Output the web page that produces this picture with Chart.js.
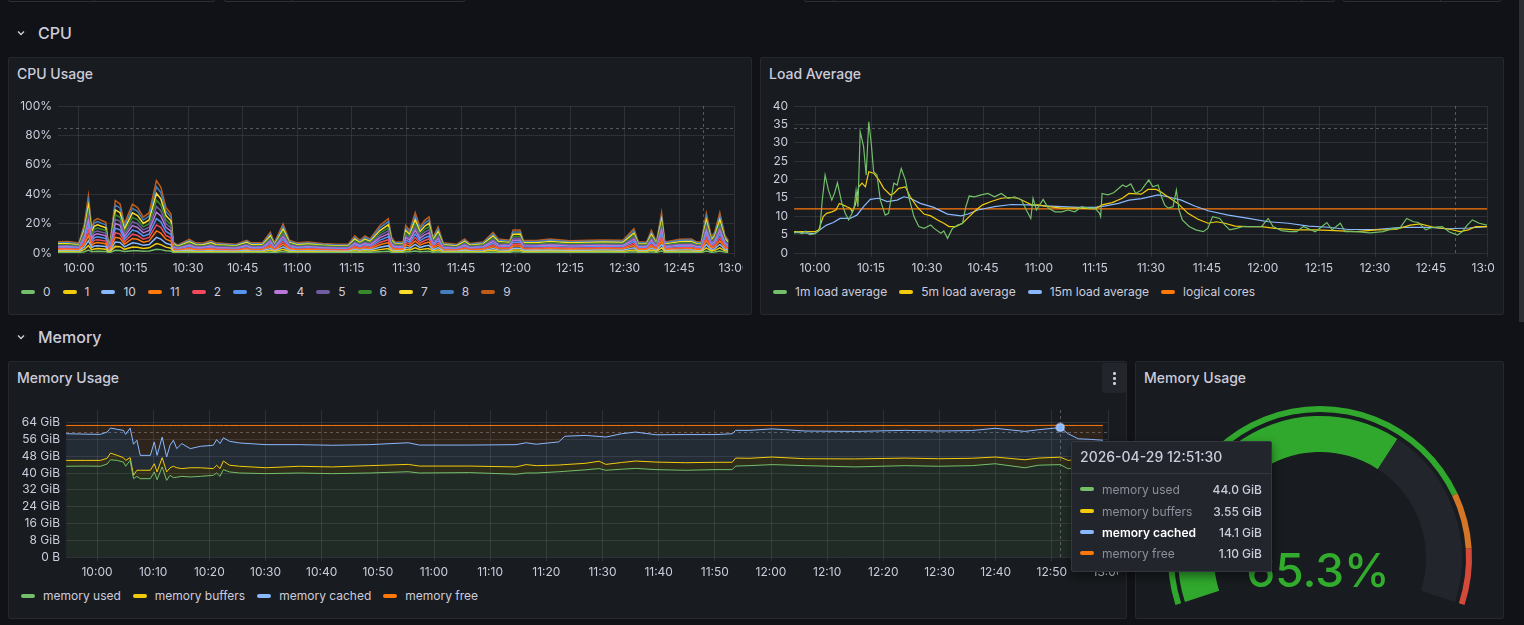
<!DOCTYPE html>
<html>
<head>
<meta charset="utf-8">
<title>Node dashboard</title>
<script src="https://cdn.jsdelivr.net/npm/chart.js@4.4.1/dist/chart.umd.min.js"></script>
<style>
  body { margin: 0; width: 1524px; height: 625px; background: #111217; overflow: hidden;
         font-family: Inter, 'Noto Sans', sans-serif; color: #ccccdc; position: relative; }
  .var { position: absolute; top: -20px; height: 22px; border: 1px solid #2c2e34; border-radius: 2px; box-sizing: border-box; }
  .var b { position: absolute; top: 0; bottom: 0; width: 1px; background: #2c2e34; }
  .row { position: absolute; left: 38px; font-size: 16px; font-weight: 500; line-height: 20px; }
  .chev { position: absolute; left: 16px; }
  .panel { position: absolute; background: #181b1f; border: 1px solid #25272d; border-radius: 2px; box-sizing: border-box; overflow: hidden; }
  .ptitle { position: absolute; left: 8px; top: 7px; font-size: 14px; font-weight: 500; line-height: 18px; white-space: nowrap; }
  canvas.c { position: absolute; }
  .legend { position: absolute; display: flex; font-size: 12px; line-height: 16px; white-space: nowrap; }
  .li { display: flex; align-items: center; margin-right: 12px; }
  .li i, .tr i { display: block; width: 14px; height: 4px; border-radius: 2px; margin-right: 8px; }
  .menu { position: absolute; left: 1102px; top: 363px; width: 24px; height: 30px; background: #22252b; border-radius: 2px; }
  .menu b { position: absolute; left: 11px; width: 2.5px; height: 2.5px; border-radius: 50%; background: #ccccdc; }
  .gval { position: absolute; left: 1218px; top: 545px; width: 200px; text-align: center; font-size: 46px;
          line-height: 50px; font-weight: 500; color: rgb(50,172,45); }
  .tip { position: absolute; left: 1071px; top: 441px; width: 201px; height: 131px; background: #22252b;
         border: 1px solid #34373e; border-radius: 2px; box-sizing: border-box; box-shadow: 0 4px 10px rgba(0,0,0,0.45); z-index: 5; }
  .tip-h { position: absolute; left: 8px; top: 6px; font-size: 14px; font-weight: 500; line-height: 18px; }
  .tip-hr { position: absolute; left: 0; right: 0; top: 31px; height: 1px; background: #34373e; }
  .tr { position: absolute; left: 8px; right: 9px; height: 16px; display: flex; align-items: center; font-size: 12px; }
  .tr .n { flex: 1; color: #8e8e9b; }
  .tr.act .n { color: #ffffff; font-weight: 600; }
  .tr .v { font-weight: 500; color: #ccccdc; }
  .scroll { position: absolute; left: 1519px; top: 0; width: 5px; height: 322px; background: #2c2e34; }
</style>
</head>
<body>

<!-- variable pickers, only their bottom edge is visible -->
<div class="var" style="left:8px;width:207px"><b style="left:85px"></b></div>
<div class="var" style="left:224px;width:241px"><b style="left:67px"></b></div>
<div class="var" style="left:804px;width:531px"><b style="left:28px"></b><b style="left:468px"></b><b style="left:496px"></b></div>
<div class="var" style="left:1343px;width:158px"><b style="left:96px"></b></div>
<div class="scroll"></div>

<svg class="chev" style="top:28px" width="10" height="10"><polyline points="2,3.5 5,6.5 8,3.5" fill="none" stroke="#ccccdc" stroke-width="1.4"/></svg>
<div class="row" style="top:23px">CPU</div>
<svg class="chev" style="top:332px" width="10" height="10"><polyline points="2,3.5 5,6.5 8,3.5" fill="none" stroke="#ccccdc" stroke-width="1.4"/></svg>
<div class="row" style="top:327px">Memory</div>

<div class="panel" style="left:8px;top:57px;width:744px;height:258px"><div class="ptitle">CPU Usage</div></div>
<div class="panel" style="left:760px;top:57px;width:744px;height:258px"><div class="ptitle">Load Average</div></div>
<div class="panel" style="left:8px;top:361px;width:1119px;height:258px"><div class="ptitle">Memory Usage</div></div>
<div class="panel" style="left:1135px;top:361px;width:369px;height:258px"><div class="ptitle">Memory Usage</div></div>
<div class="menu"><b style="top:9px"></b><b style="top:14px"></b><b style="top:19px"></b></div>

<canvas class="c" id="cpu" width="727" height="190" style="left:16px;top:90px"></canvas>
<canvas class="c" id="load" width="727" height="190" style="left:768px;top:90px"></canvas>
<canvas class="c" id="mem" width="1102" height="190" style="left:16px;top:394px"></canvas>
<canvas class="c" id="gauge" width="368" height="221" style="left:1136px;top:395px"></canvas>

<div class="legend" id="cpuLegend" style="left:21px;top:284px"></div>
<div class="legend" id="loadLegend" style="left:773px;top:284px"></div>
<div class="legend" id="memLegend" style="left:21px;top:588px"></div>

<div class="gval" id="gaugeText"></div>

<div class="tip">
  <div class="tip-h" id="tipHead"></div>
  <div class="tip-hr"></div>
  <div id="tipRows"></div>
</div>

<script>
// ------------------------------------------------------------
// Data (times are minutes after midnight, 600 = 10:00)
// ------------------------------------------------------------
const hoverTime = 771.5;          // 12:51:30, shared crosshair
const hoverDate = '2026-04-29';

// CPU usage per core, % (stacked)
const cpuNames = ['0', '1', '10', '11', '2', '3', '4', '5', '6', '7', '8', '9'];
const cpuColors = ['#73BF69', '#F2CC0C', '#8AB8FF', '#FF780A', '#F2495C', '#5794F2',
                   '#B877D9', '#705DA0', '#37872D', '#FADE2A', '#447EBC', '#C15C17'];
const cpuTimes = [
  594.0,597.0,600.0,601.5,602.6,603.5,604.2,605.1,607.4,608.3,
  610.0,611.3,612.5,614.7,616.1,617.7,619.3,621.3,622.5,623.9,
  625.3,625.9,627.1,630.3,632.1,634.0,636.3,637.6,640.0,643.1,
  646.1,647.3,650.5,652.6,653.7,656.1,657.8,660.0,663.0,667.0,
  671.0,674.0,675.8,677.2,678.6,680.0,682.7,685.0,685.9,686.8,
  689.1,689.8,690.9,692.4,693.7,695.0,696.2,697.3,698.7,700.1,
  703.8,706.0,707.4,711.1,713.8,715.2,718.4,719.3,721.2,722.1,
  725.7,729.4,734.9,740.0,744.0,749.5,752.5,753.7,756.0,757.3,
  758.7,760.1,761.0,765.1,768.3,769.7,771.0,772.4,773.8,774.7,
  776.1,777.5,778.4];
const cpu0 = [
  0.4,0.4,0.3,0.9,2.0,0.8,1.1,1.2,1.0,0.1, 1.8,1.7,1.0,1.6,1.5,1.2,1.4,2.6,2.3,1.6,
  1.3,0.4,0.3,0.5,0.3,0.3,0.4,0.3,0.3,0.3, 0.4,0.3,0.4,0.7,0.3,1.0,0.4,0.3,0.4,0.3,
  0.3,0.3,0.6,0.4,0.6,0.5,0.9,1.2,0.5,0.4, 0.4,0.9,0.8,1.4,0.9,1.1,1.2,0.5,0.9,0.3,
  0.3,0.5,0.3,0.4,0.7,0.5,0.4,0.8,0.8,0.4, 0.4,0.5,0.4,0.4,0.5,0.4,0.8,0.4,0.4,0.8,
  0.4,1.4,0.4,0.5,0.5,0.4,0.4,1.4,0.5,0.7, 1.4,0.6,0.4];
const cpu1 = [
  0.6,0.6,0.5,1.5,3.0,1.3,1.7,1.8,1.6,0.2, 2.7,2.6,1.5,2.5,2.4,1.9,2.1,3.8,3.4,2.4,
  2.0,0.6,0.4,0.7,0.5,0.5,0.6,0.5,0.5,0.4, 0.7,0.5,0.5,1.1,0.5,1.5,0.7,0.5,0.6,0.5,
  0.4,0.4,0.9,0.7,0.9,0.7,1.4,1.8,0.8,0.6, 0.6,1.4,1.2,2.1,1.3,1.7,1.9,0.8,1.3,0.5,
  0.4,0.7,0.5,0.6,1.1,0.7,0.7,1.2,1.2,0.7, 0.7,0.7,0.6,0.7,0.7,0.7,1.3,0.6,0.6,1.2,
  0.6,2.1,0.6,0.7,0.7,0.6,0.6,2.1,0.8,1.1, 2.1,0.9,0.7];
const cpu10 = [
  0.6,0.7,0.6,1.7,3.3,1.5,1.9,2.0,1.8,0.2, 3.0,2.8,1.7,2.8,2.6,2.1,2.3,4.2,3.8,2.6,
  2.3,0.6,0.5,0.8,0.6,0.6,0.7,0.6,0.5,0.5, 0.8,0.6,0.6,1.2,0.6,1.7,0.8,0.6,0.6,0.5,
  0.5,0.5,1.0,0.7,1.0,0.8,1.6,2.0,0.9,0.6, 0.6,1.6,1.3,2.3,1.5,1.9,2.1,0.9,1.5,0.6,
  0.5,0.8,0.5,0.6,1.2,0.8,0.8,1.3,1.3,0.8, 0.7,0.8,0.7,0.8,0.8,0.8,1.4,0.6,0.6,1.3,
  0.6,2.3,0.6,0.8,0.8,0.6,0.6,2.3,0.9,1.2, 2.3,1.0,0.8];
const cpu11 = [
  0.7,0.7,0.6,1.8,3.5,1.6,2.0,2.1,1.9,0.2, 3.2,3.0,1.8,3.0,2.8,2.2,2.4,4.4,4.0,2.8,
  2.4,0.7,0.5,0.8,0.6,0.6,0.8,0.6,0.6,0.5, 0.8,0.6,0.6,1.3,0.6,1.8,0.8,0.6,0.7,0.6,
  0.5,0.5,1.0,0.8,1.0,0.9,1.7,2.1,1.0,0.7, 0.7,1.7,1.4,2.4,1.6,2.0,2.2,1.0,1.6,0.6,
  0.5,0.9,0.6,0.7,1.3,0.9,0.8,1.4,1.4,0.8, 0.8,0.9,0.8,0.8,0.8,0.8,1.5,0.7,0.7,1.4,
  0.7,2.4,0.7,0.8,0.9,0.7,0.7,2.4,1.0,1.3, 2.4,1.1,0.8];
const cpu2 = [
  0.7,0.6,0.6,1.6,3.4,1.4,1.9,1.9,1.8,0.2, 3.1,2.8,1.6,2.9,2.6,2.0,2.4,4.1,3.9,2.6,
  2.2,0.7,0.4,0.8,0.6,0.6,0.7,0.6,0.6,0.5, 0.7,0.6,0.6,1.2,0.6,1.6,0.7,0.6,0.6,0.6,
  0.5,0.5,1.0,0.7,1.0,0.8,1.6,1.9,0.9,0.7, 0.6,1.6,1.3,2.3,1.5,1.8,2.1,0.9,1.5,0.6,
  0.5,0.8,0.6,0.6,1.2,0.8,0.7,1.3,1.4,0.7, 0.7,0.8,0.7,0.7,0.8,0.7,1.4,0.7,0.6,1.3,
  0.7,2.4,0.6,0.8,0.8,0.7,0.6,2.3,0.9,1.2, 2.3,1.0,0.7];
const cpu3 = [
  0.6,0.7,0.6,1.7,3.2,1.5,1.8,2.0,1.7,0.2, 3.0,2.9,1.7,2.8,2.7,2.1,2.3,4.2,3.8,2.7,
  2.3,0.6,0.5,0.8,0.6,0.5,0.7,0.6,0.5,0.5, 0.8,0.6,0.6,1.2,0.6,1.7,0.8,0.6,0.6,0.5,
  0.5,0.5,1.0,0.8,1.0,0.8,1.6,2.0,0.9,0.6, 0.7,1.6,1.3,2.4,1.5,1.9,2.1,0.9,1.5,0.6,
  0.5,0.8,0.5,0.7,1.2,0.8,0.8,1.3,1.3,0.8, 0.7,0.8,0.7,0.8,0.7,0.8,1.4,0.6,0.7,1.3,
  0.6,2.3,0.7,0.8,0.8,0.6,0.7,2.3,0.9,1.2, 2.4,1.0,0.8];
const cpu4 = [
  0.7,0.7,0.6,1.8,3.5,1.6,2.0,2.1,1.9,0.2, 3.2,3.0,1.8,3.0,2.8,2.2,2.5,4.4,4.0,2.8,
  2.4,0.7,0.5,0.8,0.6,0.6,0.8,0.6,0.6,0.5, 0.8,0.6,0.6,1.3,0.6,1.8,0.8,0.6,0.7,0.6,
  0.5,0.5,1.0,0.8,1.0,0.9,1.7,2.1,1.0,0.7, 0.7,1.7,1.4,2.5,1.6,2.0,2.2,1.0,1.6,0.6,
  0.5,0.9,0.6,0.7,1.3,0.9,0.8,1.4,1.4,0.8, 0.8,0.9,0.8,0.8,0.8,0.8,1.5,0.7,0.7,1.4,
  0.7,2.5,0.7,0.8,0.9,0.7,0.7,2.4,1.0,1.3, 2.5,1.1,0.8];
const cpu5 = [
  0.6,0.6,0.5,1.6,3.1,1.4,1.8,1.9,1.7,0.2, 2.9,2.7,1.6,2.7,2.5,2.0,2.2,4.0,3.6,2.5,
  2.1,0.6,0.4,0.7,0.6,0.5,0.7,0.6,0.5,0.5, 0.7,0.6,0.6,1.1,0.6,1.6,0.7,0.6,0.6,0.5,
  0.5,0.5,0.9,0.7,0.9,0.8,1.5,1.9,0.9,0.6, 0.6,1.5,1.2,2.2,1.4,1.8,2.0,0.9,1.4,0.6,
  0.5,0.8,0.5,0.6,1.1,0.8,0.7,1.3,1.3,0.7, 0.7,0.8,0.7,0.7,0.7,0.7,1.3,0.6,0.6,1.2,
  0.6,2.2,0.6,0.8,0.8,0.6,0.6,2.2,0.9,1.1, 2.2,1.0,0.7];
const cpu6 = [
  0.7,0.6,0.6,1.7,3.3,1.5,1.9,2.0,1.8,0.2, 3.1,2.8,1.7,2.9,2.6,2.1,2.3,4.2,3.9,2.6,
  2.3,0.7,0.5,0.8,0.6,0.6,0.7,0.6,0.6,0.5, 0.7,0.6,0.6,1.2,0.6,1.7,0.7,0.6,0.6,0.6,
  0.5,0.5,1.0,0.7,1.0,0.8,1.6,2.0,0.9,0.7, 0.6,1.6,1.3,2.3,1.5,1.9,2.1,0.9,1.5,0.6,
  0.5,0.8,0.6,0.6,1.2,0.8,0.7,1.3,1.3,0.7, 0.7,0.8,0.7,0.7,0.8,0.7,1.4,0.7,0.6,1.3,
  0.7,2.3,0.6,0.8,0.8,0.7,0.6,2.3,0.9,1.2, 2.3,1.0,0.7];
const cpu7 = [
  0.7,0.7,0.6,1.8,3.6,1.6,2.1,2.2,2.0,0.2, 3.3,3.1,1.8,3.1,2.9,2.3,2.6,4.6,4.2,2.9,
  2.5,0.7,0.5,0.9,0.6,0.6,0.8,0.6,0.6,0.6, 0.8,0.6,0.7,1.3,0.6,1.8,0.8,0.6,0.7,0.6,
  0.6,0.6,1.1,0.8,1.1,0.9,1.7,2.2,1.0,0.7, 0.7,1.7,1.4,2.6,1.7,2.1,2.3,1.0,1.7,0.6,
  0.6,0.9,0.6,0.7,1.3,0.9,0.8,1.5,1.5,0.8, 0.8,0.9,0.8,0.8,0.8,0.8,1.5,0.7,0.7,1.4,
  0.7,2.6,0.7,0.9,0.9,0.7,0.7,2.5,1.0,1.3, 2.6,1.1,0.8];
const cpu8 = [
  0.7,0.8,0.7,1.9,3.6,1.7,2.1,2.2,1.9,0.2, 3.4,3.1,1.9,3.1,2.9,2.3,2.6,4.6,4.2,2.9,
  2.5,0.7,0.5,0.9,0.7,0.6,0.8,0.7,0.6,0.6, 0.8,0.7,0.7,1.3,0.7,1.9,0.8,0.7,0.7,0.6,
  0.6,0.6,1.1,0.8,1.1,0.9,1.8,2.2,1.0,0.7, 0.7,1.8,1.4,2.6,1.7,2.1,2.3,1.0,1.7,0.7,
  0.6,0.9,0.6,0.7,1.3,0.9,0.8,1.5,1.4,0.8, 0.8,0.9,0.8,0.8,0.8,0.8,1.6,0.7,0.7,1.4,
  0.7,2.6,0.7,0.9,0.9,0.7,0.7,2.5,1.0,1.3, 2.6,1.1,0.8];
const cpu9 = [
  0.6,0.7,0.6,1.6,3.3,1.5,1.8,2.0,1.8,0.2, 3.0,2.8,1.7,2.8,2.6,2.0,2.3,4.1,3.8,2.6,
  2.2,0.6,0.4,0.8,0.6,0.6,0.7,0.6,0.5,0.5, 0.7,0.6,0.6,1.2,0.6,1.7,0.7,0.6,0.6,0.5,
  0.5,0.5,1.0,0.7,1.0,0.8,1.6,2.0,0.9,0.6, 0.6,1.6,1.3,2.3,1.5,1.9,2.1,0.9,1.5,0.6,
  0.5,0.8,0.5,0.6,1.2,0.8,0.7,1.3,1.3,0.7, 0.7,0.8,0.7,0.7,0.7,0.7,1.4,0.6,0.6,1.3,
  0.6,2.3,0.6,0.8,0.8,0.6,0.6,2.3,0.9,1.2, 2.3,1.0,0.7];
const cpuSeries = [cpu0, cpu1, cpu10, cpu11, cpu2, cpu3, cpu4, cpu5, cpu6, cpu7, cpu8, cpu9];
const cpuXTicks = [600, 615, 630, 645, 660, 675, 690, 705, 720, 735, 750, 765, 780];
const cpuYTicks = [0, 20, 40, 60, 80, 100];
const cpuThreshold = 85;

// Load average
const loadNames = ['1m load average', '5m load average', '15m load average', 'logical cores'];
const loadColors = ['#73BF69', '#F2CC0C', '#8AB8FF', '#FF780A'];
const load1mTimes = [
  594.4,595.5,596.5,597.5,598.5,599.5,600.3,601.3,601.9,602.7,
  603.6,604.5,605.3,606.0,607.2,608.1,609.0,609.9,610.5,611.0,
  611.5,612.1,613.0,613.7,614.4,615.1,615.7,616.6,617.5,618.8,
  619.7,621.1,622.0,623.1,624.2,625.1,626.5,627.8,629.2,631.0,
  631.9,633.7,634.5,635.5,636.8,638.2,639.5,640.4,641.3,642.7,
  644.5,646.3,648.1,649.9,651.7,653.5,655.3,656.6,657.8,658.4,
  659.3,661.1,662.5,664.3,666.1,667.8,669.6,671.4,673.2,675.0,
  676.2,676.5,676.9,678.4,680.0,682.4,683.3,684.6,685.9,687.4,
  689.4,690.5,691.9,692.8,693.7,694.6,695.9,696.8,697.5,698.4,
  700.2,702.0,704.0,705.2,706.5,708.4,709.8,711.1,712.9,714.7,
  717.8,719.6,721.4,722.7,725.0,727.2,729.0,730.8,734.0,737.1,
  738.5,740.7,742.0,745.0,748.6,752.2,754.8,756.6,758.5,760.3,
  761.6,763.6,765.4,768.0,769.8,772.1,773.4,774.7,776.1,777.9,
  780.0];
const load1m = [
  5.4,5.8,5.2,6.0,5.0,5.1,5.6,6.3,14,21.2,
  17.1,14.4,16.5,19.1,13.5,10.8,9.0,10.8,12.5,17,
  12.6,33.0,29.0,21.2,35.7,29.4,22.1,21.2,14.4,10.3,
  10.8,19.0,18.5,23.0,19.9,15.3,9.9,7.2,6.7,7.6,
  6.7,5.4,6.0,4.0,6.7,7.6,8.0,12.6,15.5,15.3,
  15.8,16.2,15.3,16.2,14.9,15.3,14.4,11.7,9.4,14.9,
  11.7,14.6,12.2,11.2,11.2,11.7,11.2,12.6,12.2,12.2,
  10.8,9.9,16.2,15.8,16.4,18.5,18.0,18.8,16.2,17.1,
  19.9,18.0,18.5,15.3,13.0,12.2,12.6,17.1,11.7,9.0,
  7.2,6.3,5.8,6.7,9.9,9.4,7.6,6.3,6.7,7.2,
  7.2,7.2,9.4,7.2,6.1,5.8,5.8,7.2,5.8,8.3,
  6.3,8.1,5.8,5.8,5.5,5.8,6.7,6.7,9.4,8.5,
  8.3,6.3,7.0,7.2,5.8,4.9,5.8,7.6,9.0,8.1,
  7.6];
const load5mTimes = [
  594.4,597.0,600.0,601.0,602.2,603.1,604.5,605.6,606.5,607.5,
  608.5,609.4,610.0,610.8,611.7,612.6,613.5,614.4,615.7,617.1,
  618.4,620.2,621.1,622.4,624.2,625.5,627.3,629.2,631.0,632.8,
  634.5,635.9,637.7,639.5,641.3,643.1,644.9,647.2,649.9,652.1,
  654.4,656.2,658.0,659.8,662.5,666.1,670.6,675.0,676.9,679.6,
  682.3,684.1,687.4,689.2,691.4,692.5,694.5,697.2,699.9,702.6,
  705.3,707.5,709.8,712.5,716.0,719.6,723.2,728.6,734.0,739.3,
  745.0,750.4,755.6,759.4,762.1,765.7,770.2,772.8,775.0,777.0,
  780.0];
const load5m = [
  5.8,5.8,5.8,6.3,9.9,10.8,11.2,11.7,13.5,13.1,
  12.6,12.2,11.2,13.1,18.0,19.0,18.0,22.1,21.7,19.9,
  17.6,15.8,16.2,17.6,18.0,15.3,12.6,10.6,10.1,9.0,
  8.1,7.2,7.2,8.1,9.9,11.7,13.1,14.0,14.9,15.1,
  14.9,14.0,13.1,13.1,12.6,12.2,12.2,12.0,13.1,13.7,
  14.9,16.2,16.0,17.3,17.3,16.7,15.3,13.5,10.8,9.2,
  8.1,8.5,8.1,7.3,7.2,7.2,6.7,6.3,6.3,6.1,
  5.8,6.3,6.4,7.6,7.9,7.0,6.4,5.8,6.3,7.2,
  7.2];
const load15mTimes = [
  594.4,597.0,600.0,601.3,603.1,604.9,606.7,609.4,611.2,613.0,
  614.8,617.1,619.3,622.0,623.8,625.5,628.2,631.8,635.5,639.1,
  641.0,643.6,648.1,652.6,657.1,661.6,666.1,670.6,675.0,677.8,
  681.3,684.1,687.5,691.9,694.5,698.1,701.7,705.3,710.7,716.1,
  721.4,726.8,732.2,737.5,742.9,750.1,757.3,763.6,769.8,775.2,
  780.0];
const load15m = [
  5.6,5.5,5.3,6.3,7.6,8.3,9.4,9.4,10.3,12.6,
  14.6,14.9,14.0,14.4,15.3,14.9,13.5,12.4,10.6,10.1,
  10.6,11.7,12.6,13.2,13.1,12.8,12.6,12.4,12.4,12.8,
  13.5,14.4,14.8,15.8,15.3,14.4,12.8,11.5,10.3,9.4,
  8.5,8.1,7.3,7.0,6.4,6.4,7.0,7.0,6.6,6.8,
  7.2];
const coresTimes = [594.4, 780.0];
const cores = [12, 12];
const loadYTicks = [0, 5, 10, 15, 20, 25, 30, 35, 40];
const loadThreshold = 34;

// Memory, GiB (stacked)
const memNames = ['memory used', 'memory buffers', 'memory cached', 'memory free'];
const memColors = ['#73BF69', '#F2CC0C', '#8AB8FF', '#FF780A'];
const memTimes = [
  594.5,598.0,600.6,601.8,602.4,603.6,604.7,605.1,605.9,606.5,
  607.1,607.7,609.5,610.2,610.7,611.6,612.4,613.0,613.6,614.2,
  615.1,616.6,618.4,620.7,621.3,621.9,622.5,623.6,625.4,630.1,
  636.0,641.9,648.5,655.4,657.4,666.3,674.6,676.4,678.2,682.2,
  683.3,686.9,689.4,690.6,693.4,695.9,699.5,704.8,710.2,713.1,
  713.7,716.1,720.2,726.1,735.0,743.9,749.8,755.7,759.9,765.2,
  767.6,771.5,772.9,774.7,777.0,779.1];
const memUsed = [
  43.2,43.3,43.2,44.3,46.3,46.0,45.2,43.2,46.0,37.3,
  38.4,37.3,37.3,40.5,36.8,42.9,36.5,38.9,37.8,38.0,
  38.4,38.1,38.4,38.9,40.0,38.4,41.6,40.5,40.0,39.7,
  40.0,39.7,40.0,40.6,40.0,40.2,39.4,40.0,40.0,40.6,
  40.8,41.5,42.1,41.3,41.8,42.2,41.6,41.3,41.6,41.6,
  43.3,43.5,44.0,43.5,42.9,43.5,43.2,43.5,44.4,42.5,
  43.7,44.0,42.0,42.6,42.5,42.4];
const memBuffers = [
  2.8,2.7,2.8,2.7,3.2,2.4,2.1,2.8,1.3,1.6,
  2.9,4.0,4.0,3.9,3.7,4.4,4.0,3.6,5.4,4.5,
  3.7,4.4,4.1,3.2,3.7,3.7,4.1,3.2,3.2,2.8,
  3.2,3.2,3.5,3.5,3.3,3.1,3.5,4.0,3.5,3.2,
  3.2,3.1,3.5,2.8,3.2,3.5,3.6,3.6,3.5,3.5,
  3.8,3.5,3.6,3.3,3.8,3.6,3.6,3.5,3.2,3.8,
  3.4,3.55,4.0,3.8,3.8,3.8];
const memCached = [
  12.7,12.5,12.4,12.5,11.9,12.4,13.0,12.4,14.1,14.8,
  14.3,7.1,7.1,10.4,7.9,9.8,7.1,10.7,12.4,9.1,
  11.9,9.1,10.2,11.1,12.2,11.9,11.1,11.4,11.1,11.0,
  10.3,10.3,10.0,10.3,10.0,10.0,10.6,10.4,10.2,11.0,
  13.5,13.3,11.8,13.0,13.7,13.8,13.0,13.4,13.2,13.6,
  13.2,13.3,13.4,13.2,13.1,13.2,13.2,13.2,13.7,13.5,
  13.5,14.1,12.7,9.9,9.7,9.4];
const memFree = [
  3.95,4.15,4.25,3.15,1.25,1.85,2.35,4.25,1.25,8.95,
  7.05,14.25,14.25,7.85,14.25,5.55,15.05,9.45,7.05,11.05,
  8.65,11.05,9.95,9.45,6.75,8.65,5.85,7.55,8.35,9.15,
  9.15,9.45,9.15,8.25,9.35,9.35,9.15,8.25,8.95,7.85,
  5.15,4.75,5.25,5.55,3.95,3.15,4.45,4.35,4.35,3.95,
  2.35,2.35,1.65,2.65,2.85,2.35,2.65,2.45,1.35,2.85,
  2.05,1.10,3.95,6.35,6.65,7.05];
const memSeries = [memUsed, memBuffers, memCached, memFree];
const memXTicks = [600, 610, 620, 630, 640, 650, 660, 670, 680, 690, 700, 710,
                   720, 730, 740, 750, 760, 770, 780];
const memYTicks = [0, 8, 16, 24, 32, 40, 48, 56, 64];
const memThreshold = 59.5;
const memActive = 2;               // highlighted row in tooltip (memory cached)

// Gauge
const gaugeValue = 65.3;
const gaugeSteps = [0, 80, 90, 100];
const gaugeColors = ['rgba(50,172,45,0.97)', 'rgba(237,129,40,0.89)', '#d44a3a'];

// ------------------------------------------------------------
// Helpers
// ------------------------------------------------------------
const GRID = 'rgba(204,204,220,0.12)';
const TICK = '#ccccdc';
const DASH = 'rgba(204,204,220,0.35)';

Chart.defaults.font.family = "Inter, 'Noto Sans', sans-serif";
Chart.defaults.font.size = 12;
Chart.defaults.color = TICK;

function hhmm(v) {
  const h = Math.floor(v / 60), m = Math.round(v - h * 60);
  return h + ':' + String(m).padStart(2, '0');
}

function pts(times, values) {
  return values.map((v, i) => ({ x: times[i], y: v }));
}

function timeAxis(min, max, ticks) {
  return {
    type: 'linear', min, max,
    afterBuildTicks: s => { s.ticks = ticks.map(value => ({ value })); },
    afterFit: s => { s.height = 27; s.paddingLeft = 0; s.paddingRight = 0; },
    grid: { color: GRID, tickLength: 4 },
    border: { display: false },
    ticks: { color: TICK, padding: 4, maxRotation: 0, autoSkip: false, callback: hhmm },
  };
}

function valueAxis(max, ticks, width, fmt, stacked) {
  return {
    min: 0, max, stacked,
    afterBuildTicks: s => { s.ticks = ticks.map(value => ({ value })); },
    afterFit: s => { s.width = width; s.paddingTop = 0; s.paddingBottom = 0; },
    grid: { color: GRID, drawTicks: false },
    border: { display: false },
    ticks: { color: TICK, padding: 6, callback: fmt },
  };
}

// dashed threshold line + shared crosshair
const guides = {
  id: 'guides',
  beforeDatasetsDraw(chart, args, opts) {
    const { ctx, chartArea: a, scales: { x, y } } = chart;
    ctx.save();
    ctx.strokeStyle = DASH;
    ctx.lineWidth = 1;
    ctx.setLineDash([3, 3]);
    ctx.beginPath();
    if (opts.threshold != null) {
      const py = Math.round(y.getPixelForValue(opts.threshold)) + 0.5;
      ctx.moveTo(a.left, py); ctx.lineTo(a.right, py);
    }
    if (opts.hover != null) {
      const px = Math.round(x.getPixelForValue(opts.hover)) + 0.5;
      ctx.moveTo(px, a.top); ctx.lineTo(px, a.bottom);
    }
    ctx.stroke();
    ctx.restore();
  }
};

function baseOptions(padRight) {
  return {
    responsive: false,
    animation: false,
    events: [],
    layout: { padding: { top: 16, right: padRight, left: 0, bottom: 0 } },
    elements: { point: { radius: 0 }, line: { tension: 0 } },
  };
}

function buildLegend(id, names, colors) {
  const el = document.getElementById(id);
  names.forEach((n, i) => {
    el.insertAdjacentHTML('beforeend', `<span class="li"><i style="background:${colors[i]}"></i>${n}</span>`);
  });
}

// ------------------------------------------------------------
// CPU Usage
// ------------------------------------------------------------
new Chart(document.getElementById('cpu'), {
  type: 'line',
  data: {
    datasets: cpuNames.map((n, i) => ({
      label: n,
      data: pts(cpuTimes, cpuSeries[i]),
      borderColor: cpuColors[i],
      borderWidth: 1.5,
      fill: false,
    }))
  },
  options: {
    ...baseOptions(9),
    plugins: { legend: { display: false }, tooltip: { enabled: false },
               guides: { threshold: cpuThreshold, hover: hoverTime } },
    scales: {
      x: timeAxis(594.25, 780, cpuXTicks),
      y: valueAxis(100, cpuYTicks, 42, v => v + '%', true),
    }
  },
  plugins: [guides]
});

// ------------------------------------------------------------
// Load Average
// ------------------------------------------------------------
const loadData = [pts(load1mTimes, load1m), pts(load5mTimes, load5m),
                  pts(load15mTimes, load15m), pts(coresTimes, cores)];
new Chart(document.getElementById('load'), {
  type: 'line',
  data: {
    datasets: loadNames.map((n, i) => ({
      label: n,
      data: loadData[i],
      borderColor: loadColors[i],
      borderWidth: 1.2,
      fill: false,
    }))
  },
  options: {
    ...baseOptions(8),
    plugins: { legend: { display: false }, tooltip: { enabled: false },
               guides: { threshold: loadThreshold, hover: hoverTime } },
    scales: {
      x: timeAxis(594.37, 780, cpuXTicks),
      y: valueAxis(40, loadYTicks, 26, v => String(v), false),
    }
  },
  plugins: [guides]
});

// ------------------------------------------------------------
// Memory Usage (stacked area)
// ------------------------------------------------------------
const hoverIdx = memTimes.indexOf(hoverTime);
new Chart(document.getElementById('mem'), {
  type: 'line',
  data: {
    datasets: memNames.map((n, i) => ({
      label: n,
      data: pts(memTimes, memSeries[i]),
      borderColor: memColors[i],
      backgroundColor: memColors[i] + '1a',
      borderWidth: 1,
      fill: i === 0 ? 'origin' : '-1',
      pointRadius: c => (i === memActive && c.dataIndex === hoverIdx) ? 4 : 0,
      pointBackgroundColor: memColors[i],
      pointBorderColor: 'rgba(200,220,255,0.45)',
      pointBorderWidth: 2,
    }))
  },
  options: {
    ...baseOptions(10),
    plugins: { legend: { display: false }, tooltip: { enabled: false },
               guides: { threshold: memThreshold, hover: hoverTime } },
    scales: {
      x: timeAxis(594.48, 780, memXTicks),
      y: valueAxis(70, memYTicks, 50, v => v === 0 ? '0 B' : v + ' GiB', true),
    }
  },
  plugins: [guides]
});

// ------------------------------------------------------------
// Memory Usage gauge
// ------------------------------------------------------------
new Chart(document.getElementById('gauge'), {
  type: 'doughnut',
  data: {
    datasets: [
      { data: gaugeSteps.slice(1).map((v, i) => v - gaugeSteps[i]), backgroundColor: gaugeColors, weight: 6, borderWidth: 0 },
      { data: [100], backgroundColor: ['rgba(0,0,0,0)'], weight: 4, borderWidth: 0 },
      { data: [gaugeValue, 100 - gaugeValue], backgroundColor: [gaugeColors[0], '#22252b'], weight: 36, borderWidth: 0 },
    ]
  },
  options: {
    responsive: false,
    animation: false,
    events: [],
    rotation: -108,
    circumference: 216,
    radius: 152,
    cutout: '69.74%',
    layout: { padding: 0 },
    plugins: { legend: { display: false }, tooltip: { enabled: false } },
  }
});
document.getElementById('gaugeText').textContent = gaugeValue.toFixed(1) + '%';

// ------------------------------------------------------------
// Legends and hover tooltip
// ------------------------------------------------------------
buildLegend('cpuLegend', cpuNames, cpuColors);
buildLegend('loadLegend', loadNames, loadColors);
buildLegend('memLegend', memNames, memColors);

const secs = Math.round((hoverTime % 1) * 60);
document.getElementById('tipHead').textContent =
  hoverDate + ' ' + hhmm(Math.floor(hoverTime)).padStart(5, '0') + ':' + String(secs).padStart(2, '0');
const rowTops = [39, 61, 82, 103];
const rows = document.getElementById('tipRows');
memNames.forEach((n, i) => {
  const v = memSeries[i][hoverIdx].toPrecision(3) + ' GiB';
  rows.insertAdjacentHTML('beforeend',
    `<div class="tr${i === memActive ? ' act' : ''}" style="top:${rowTops[i]}px">` +
    `<i style="background:${memColors[i]}"></i><span class="n">${n}</span><span class="v">${v}</span></div>`);
});
</script>
</body>
</html>
